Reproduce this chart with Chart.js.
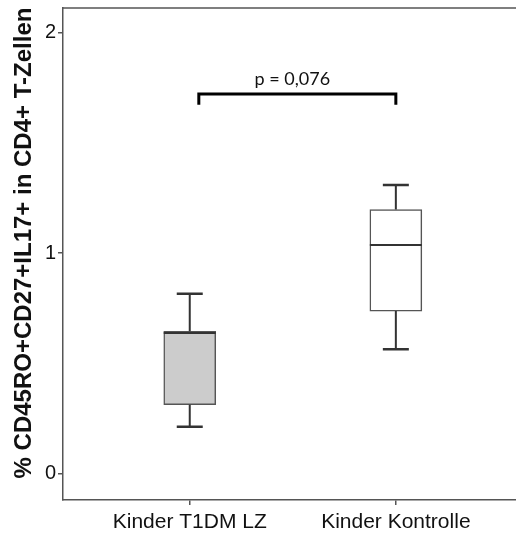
<!DOCTYPE html>
<html>
<head>
<meta charset="utf-8">
<script src="https://cdn.jsdelivr.net/npm/chart.js@4"></script>
<style>
  html, body { margin: 0; padding: 0; background: #fff; overflow: hidden; }
  #wrap { width: 516px; height: 533px; }
</style>
</head>
<body>
<div id="wrap"><canvas id="boxChart"></canvas></div>
<script>
const categories = ['Kinder T1DM LZ', 'Kinder Kontrolle'];
const positions = [1, 2];
const mins = [0.214, 0.565];
const q1s = [0.314, 0.738];
const medians = [0.639, 1.037];
const q3s = [0.646, 1.198];
const maxs = [0.816, 1.309];
const yTicks = [0, 1, 2];
const boxFills = ['#cccccc', '#ffffff'];

const yTitle = '% CD45RO+CD27+IL17+ in CD4+ T-Zellen';
const pLabel = 'p = 0,076';
const bracketX = [1.044, 2.0];
const bracketY = 1.721;
const bracketDrop = 0.048;

const boxChartDOM = document.querySelector('#boxChart');

// whiskers, medians, bracket, frame and axis title, all through the chart scales
const boxExtras = {
    id: 'boxExtras',
    afterDatasetsDraw(chart) {
        const { ctx, chartArea, scales: { x, y } } = chart;
        ctx.save();

        // top border of the frame
        ctx.strokeStyle = '#555';
        ctx.lineWidth = 1.5;
        ctx.beginPath();
        ctx.moveTo(chartArea.left, chartArea.top);
        ctx.lineTo(chartArea.right, chartArea.top);
        ctx.stroke();

        ctx.strokeStyle = '#333';
        positions.forEach((pos, i) => {
            const cx = x.getPixelForValue(pos);
            const cap = 13;
            ctx.lineWidth = 2;
            ctx.beginPath();
            ctx.moveTo(cx, y.getPixelForValue(q3s[i]));
            ctx.lineTo(cx, y.getPixelForValue(maxs[i]));
            ctx.moveTo(cx, y.getPixelForValue(q1s[i]));
            ctx.lineTo(cx, y.getPixelForValue(mins[i]));
            ctx.stroke();
            ctx.lineWidth = 2.5;
            ctx.beginPath();
            ctx.moveTo(cx - cap, y.getPixelForValue(maxs[i]));
            ctx.lineTo(cx + cap, y.getPixelForValue(maxs[i]));
            ctx.moveTo(cx - cap, y.getPixelForValue(mins[i]));
            ctx.lineTo(cx + cap, y.getPixelForValue(mins[i]));
            ctx.stroke();
            ctx.lineWidth = 2;
            ctx.beginPath();
            ctx.moveTo(cx - 26, y.getPixelForValue(medians[i]));
            ctx.lineTo(cx + 26, y.getPixelForValue(medians[i]));
            ctx.stroke();
        });

        // significance bracket
        const bx0 = x.getPixelForValue(bracketX[0]);
        const bx1 = x.getPixelForValue(bracketX[1]);
        const by = y.getPixelForValue(bracketY);
        const byEnd = y.getPixelForValue(bracketY - bracketDrop);
        ctx.strokeStyle = '#000';
        ctx.lineWidth = 3;
        ctx.beginPath();
        ctx.moveTo(bx0, byEnd);
        ctx.lineTo(bx0, by);
        ctx.lineTo(bx1, by);
        ctx.lineTo(bx1, byEnd);
        ctx.stroke();

        ctx.fillStyle = '#111';
        ctx.font = '18px Lato, "Open Sans", sans-serif';
        ctx.textAlign = 'center';
        ctx.textBaseline = 'alphabetic';
        ctx.fillText(pLabel, (bx0 + bx1) / 2 - 5, by - 9);

        // y axis title
        ctx.translate(24, 243);
        ctx.rotate(-Math.PI / 2);
        ctx.font = 'bold 24px "Liberation Sans", Arial, sans-serif';
        ctx.textBaseline = 'middle';
        ctx.fillText(yTitle, 0, 0);
        ctx.restore();
    }
};

const data = {
    datasets: [{
        data: positions.map((pos, i) => ({ x: pos, y: [q1s[i], q3s[i]] })),
        backgroundColor: boxFills,
        borderColor: '#555',
        borderWidth: 1.5,
        borderSkipped: false,
        barThickness: 52
    }]
};

const config = {
    type: 'bar',
    data: data,
    plugins: [boxExtras],
    options: {
        responsive: true,
        maintainAspectRatio: false,
        animation: false,
        layout: { padding: { top: 8, right: 0, left: 0, bottom: 0 } },
        plugins: {
            legend: { display: false },
            tooltip: { enabled: false }
        },
        scales: {
            x: {
                type: 'linear',
                offset: false,
                min: 0.385,
                max: 2.583,
                afterBuildTicks: (scale) => { scale.ticks = positions.map(v => ({ value: v })); },
                afterFit: (scale) => {
                    scale.height = 33;
                    scale.paddingLeft = 0;
                    scale.paddingRight = 0;
                },
                ticks: {
                    callback: (value) => categories[positions.indexOf(value)] || '',
                    color: '#111',
                    font: { family: '"Liberation Sans", Arial, sans-serif', size: 21 },
                    padding: 5,
                    maxRotation: 0,
                    autoSkip: false
                },
                grid: { offset: false, drawOnChartArea: false, tickLength: 5, color: '#555', lineWidth: 1.5 },
                border: { color: '#555', width: 1.5 }
            },
            y: {
                min: -0.118,
                max: 2.111,
                afterBuildTicks: (scale) => { scale.ticks = yTicks.map(v => ({ value: v })); },
                afterFit: (scale) => {
                    scale.width = 63;
                    scale.paddingTop = 0;
                    scale.paddingBottom = 0;
                },
                ticks: {
                    color: '#111',
                    font: { family: '"Liberation Sans", Arial, sans-serif', size: 20 },
                    padding: 2
                },
                grid: { drawOnChartArea: false, tickLength: 5, color: '#555', lineWidth: 1.5 },
                border: { color: '#555', width: 1.5 }
            }
        }
    }
};

new Chart(boxChartDOM, config);
</script>
</body>
</html>
